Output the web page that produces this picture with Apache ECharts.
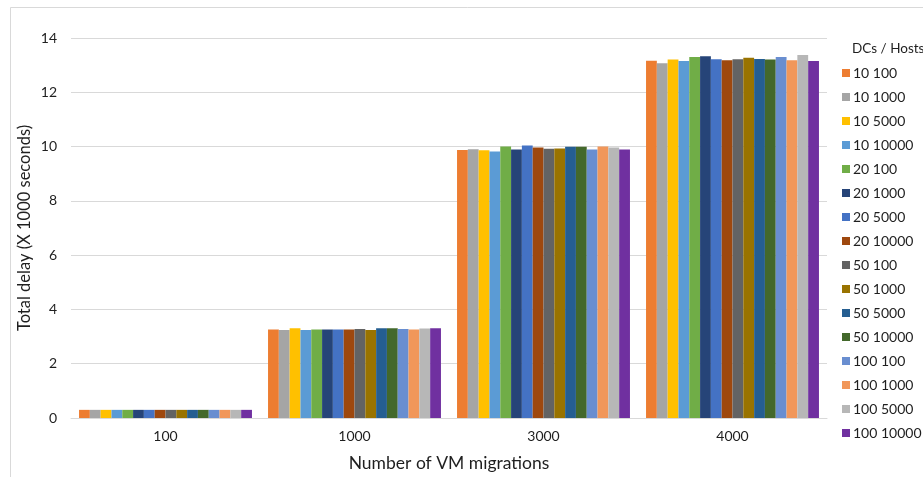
<!DOCTYPE html>
<html>
<head>
<meta charset="utf-8">
<script src="https://cdn.jsdelivr.net/npm/echarts@6/dist/echarts.min.js"></script>
<style>
  html, body { margin: 0; padding: 0; background: #fff; }
  #chart { width: 923px; height: 477px; }
</style>
</head>
<body>
<div id="chart"></div>
<script>
// Number of VM migrations (x categories)
const migrations = ['100', '1000', '3000', '4000'];

// Configurations: DCs / Hosts
const configNames = [
  '10 100', '10 1000', '10 5000', '10 10000',
  '20 100', '20 1000', '20 5000', '20 10000',
  '50 100', '50 1000', '50 5000', '50 10000',
  '100 100', '100 1000', '100 5000', '100 10000'
];

// Total delay (x 1000 s) per configuration, one value per migration count
const d10_100   = [0.30, 3.26, 9.87, 13.16];
const d10_1000  = [0.30, 3.24, 9.90, 13.07];
const d10_5000  = [0.30, 3.31, 9.86, 13.21];
const d10_10000 = [0.30, 3.24, 9.82, 13.15];
const d20_100   = [0.30, 3.26, 10.00, 13.30];
const d20_1000  = [0.30, 3.26, 9.89, 13.33];
const d20_5000  = [0.30, 3.26, 10.04, 13.22];
const d20_10000 = [0.30, 3.26, 9.97, 13.18];
const d50_100   = [0.30, 3.28, 9.92, 13.22];
const d50_1000  = [0.30, 3.24, 9.93, 13.27];
const d50_5000  = [0.30, 3.31, 9.99, 13.23];
const d50_10000 = [0.30, 3.31, 9.99, 13.21];
const d100_100  = [0.30, 3.28, 9.89, 13.30];
const d100_1000 = [0.30, 3.26, 10.00, 13.18];
const d100_5000 = [0.30, 3.30, 9.97, 13.37];
const d100_10000= [0.30, 3.31, 9.89, 13.15];

const seriesValues = [
  d10_100, d10_1000, d10_5000, d10_10000,
  d20_100, d20_1000, d20_5000, d20_10000,
  d50_100, d50_1000, d50_5000, d50_10000,
  d100_100, d100_1000, d100_5000, d100_10000
];

const palette = [
  '#ED7D31', '#A5A5A5', '#FFC000', '#5B9BD5',
  '#70AD47', '#264478', '#4472C4', '#9E480E',
  '#636363', '#997300', '#255E91', '#43682B',
  '#698ED0', '#F1975A', '#B7B7B7', '#7030A0'
];

const FONT = 'Lato, "Liberation Sans", sans-serif';
const TEXT = '#1f1f1f';

const chart = echarts.init(document.getElementById('chart'), null, { renderer: 'canvas' });

chart.setOption({
  animation: false,
  backgroundColor: '#fff',
  color: palette,
  textStyle: { fontFamily: FONT },
  title: {
    text: 'DCs / Hosts',
    left: 847,
    top: 37,
    textStyle: { fontFamily: FONT, fontSize: 13.5, fontWeight: 'normal', color: TEXT }
  },
  graphic: [{
    type: 'rect',
    shape: { x: 10.5, y: 7.5, width: 940, height: 500 },
    style: { fill: 'none', stroke: '#D9D9D9', lineWidth: 1 },
    silent: true
  }],
  legend: {
    orient: 'vertical',
    left: 842,
    top: 65,
    icon: 'rect',
    itemWidth: 8,
    itemHeight: 8,
    itemGap: 8,
    padding: [0, 0, 0, 0],
    textStyle: { fontFamily: FONT, fontSize: 14, lineHeight: 16, color: TEXT, padding: [0, 0, 0, -2] },
    data: configNames
  },
  grid: { left: 71, right: 96, top: 38, bottom: 56, containLabel: false },
  xAxis: {
    type: 'category',
    data: migrations,
    name: 'Number of VM migrations',
    nameLocation: 'middle',
    nameGap: 36,
    nameMoveOverlap: false,
    nameTextStyle: { fontFamily: FONT, fontSize: 17.5, color: TEXT },
    axisLine: { lineStyle: { color: '#D9D9D9', width: 1 } },
    axisTick: { show: false },
    axisLabel: { fontFamily: FONT, fontSize: 14, color: TEXT, margin: 11 }
  },
  yAxis: {
    type: 'value',
    min: 0,
    max: 14,
    interval: 2,
    name: 'Total delay (X 1000 seconds)',
    nameLocation: 'middle',
    nameGap: 38,
    nameMoveOverlap: false,
    nameRotate: 90,
    nameTextStyle: { fontFamily: FONT, fontSize: 16.5, color: TEXT },
    axisLine: { show: false },
    axisTick: { show: false },
    axisLabel: { fontFamily: FONT, fontSize: 14, color: TEXT, margin: 14 },
    splitLine: { lineStyle: { color: '#D9D9D9', width: 1 } }
  },
  series: configNames.map((name, i) => ({
    name: name,
    type: 'bar',
    data: seriesValues[i],
    barGap: '0%',
    barCategoryGap: '8.5%',
    itemStyle: { color: palette[i] }
  }))
});
</script>
</body>
</html>
